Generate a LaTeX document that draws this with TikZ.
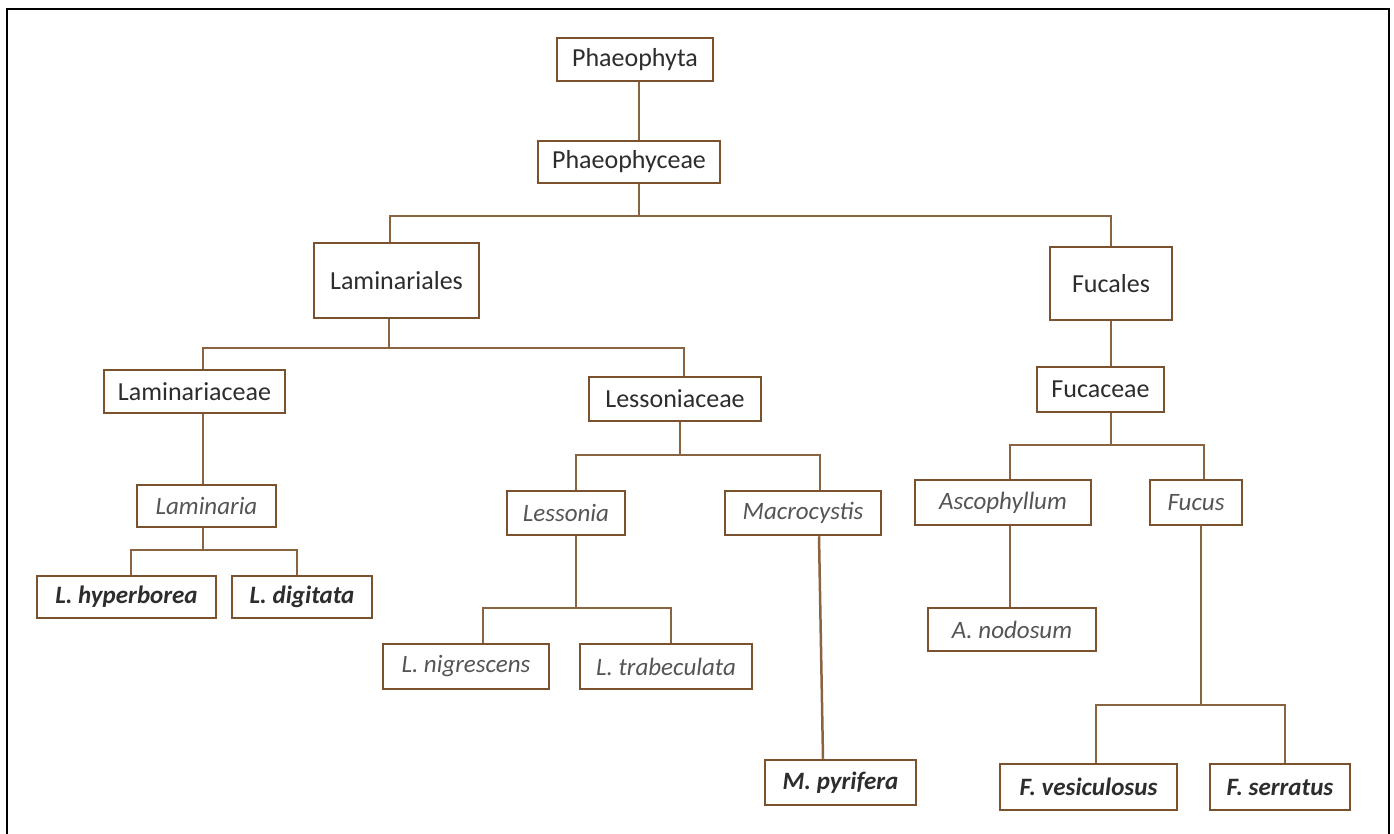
\documentclass[tikz,border=0pt]{standalone}
\usepackage{fontspec}
\setmainfont{Carlito}
\definecolor{boxbrown}{RGB}{122,82,46}
\definecolor{linebrown}{RGB}{138,100,64}
\definecolor{txtdark}{RGB}{45,45,45}
\definecolor{txtmid}{RGB}{85,85,85}
\begin{document}
\begin{tikzpicture}[x=1pt,y=-1pt,
  taxon/.style={draw=boxbrown,line width=2.5pt,fill=white,inner sep=0pt,
    minimum width=#1,font=\fontsize{26}{28}\selectfont,text=txtdark},
  genus/.style={font=\fontsize{25}{28}\selectfont\itshape,text=txtmid},
  species/.style={font=\fontsize{25}{28}\selectfont\itshape\bfseries,text=txtdark},
  conn/.style={draw=linebrown,line width=2.5pt}]
\useasboundingbox (0,0) rectangle (1394,834);
\draw[line width=2.5pt,black] (7,834) -- (7,9) -- (1389,9) -- (1389,834);

% nodes
\node[taxon=156pt,minimum height=43pt] (phyta) at (635,59.5) {Phaeophyta};
\node[taxon=182pt,minimum height=42pt] (phyceae) at (629,162) {Phaeophyceae};
\node[taxon=165pt,minimum height=75pt] (laminariales) at (396.5,280.5) {Laminariales};
\node[taxon=122pt,minimum height=73pt] (fucales) at (1111,283.5) {Fucales};
\node[taxon=181pt,minimum height=43pt] (laminariaceae) at (194.5,391.5) {Laminariaceae};
\node[taxon=172pt,minimum height=44pt] (lessoniaceae) at (675,399) {Lessoniaceae};
\node[taxon=127pt,minimum height=45pt] (fucaceae) at (1100.5,389.5) {Fucaceae};
\node[taxon=139pt,minimum height=42pt,genus] (laminaria) at (206.5,506) {Laminaria};
\node[taxon=118pt,minimum height=44pt,genus] (lessonia) at (566,513) {Lessonia};
\node[taxon=156pt,minimum height=44pt,genus] (macrocystis) at (803,513) {Macrocystis};
\node[taxon=176pt,minimum height=45pt,genus] (ascophyllum) at (1003,502.5) {Ascophyllum};
\node[taxon=92pt,minimum height=45pt,genus] (fucus) at (1196,502.5) {Fucus};
\node[taxon=179pt,minimum height=42pt,species] (lhyp) at (126.5,597) {L. hyperborea};
\node[taxon=140pt,minimum height=42pt,species] (ldig) at (302,597) {L. digitata};
\node[taxon=166pt,minimum height=45pt,genus] (lnig) at (466,666.5) {L. nigrescens};
\node[taxon=172pt,minimum height=45pt,genus] (ltrab) at (666,666.5) {L. trabeculata};
\node[taxon=151pt,minimum height=45pt,species] (mpyr) at (840.5,782.5) {M. pyrifera};
\node[taxon=168pt,minimum height=43pt,genus] (anod) at (1012,629.5) {A. nodosum};
\node[taxon=177pt,minimum height=46pt,species] (fves) at (1088.5,787) {F. vesiculosus};
\node[taxon=140pt,minimum height=46pt,species] (fser) at (1280,787) {F. serratus};

% bus coordinates
\coordinate (bus1) at (639,216);
\coordinate (bus2) at (389,348);
\coordinate (bus3) at (1111,445);
\coordinate (bus4) at (203,550);
\coordinate (bus5) at (680,455);
\coordinate (bus6) at (576,608);
\coordinate (bus7) at (1201,705);

% connectors
\draw[conn] (phyta.south -| 639,0) -- (phyceae.north -| 639,0);
\draw[conn] (phyceae.south -| bus1) -- (bus1);
\draw[conn] (laminariales.north -| 390,0) |- (bus1) -| (fucales.north -| 1111,0);
\draw[conn] (laminariales.south -| bus2) -- (bus2);
\draw[conn] (laminariaceae.north -| 203,0) |- (bus2) -| (lessoniaceae.north -| 684,0);
\draw[conn] (fucales.south -| 1111,0) -- (fucaceae.north -| 1111,0);
\draw[conn] (fucaceae.south -| bus3) -- (bus3);
\draw[conn] (ascophyllum.north -| 1010,0) |- (bus3) -| (fucus.north -| 1204,0);
\draw[conn] (laminariaceae.south -| 203,0) -- (laminaria.north -| 203,0);
\draw[conn] (laminaria.south -| bus4) -- (bus4);
\draw[conn] (lhyp.north -| 131,0) |- (bus4) -| (ldig.north -| 297,0);
\draw[conn] (lessoniaceae.south -| bus5) -- (bus5);
\draw[conn] (lessonia.north -| 576,0) |- (bus5) -| (macrocystis.north -| 820,0);
\draw[conn] (lessonia.south -| bus6) -- (bus6);
\draw[conn] (lnig.north -| 483,0) |- (bus6) -| (ltrab.north -| 671,0);
\draw[conn] (macrocystis.south -| 819,0) -- (mpyr.north -| 823,0);
\draw[conn] (ascophyllum.south -| 1010,0) -- (anod.north -| 1010,0);
\draw[conn] (fucus.south -| bus7) -- (bus7);
\draw[conn] (fves.north -| 1096,0) |- (bus7) -| (fser.north -| 1285,0);
\end{tikzpicture}
\end{document}
